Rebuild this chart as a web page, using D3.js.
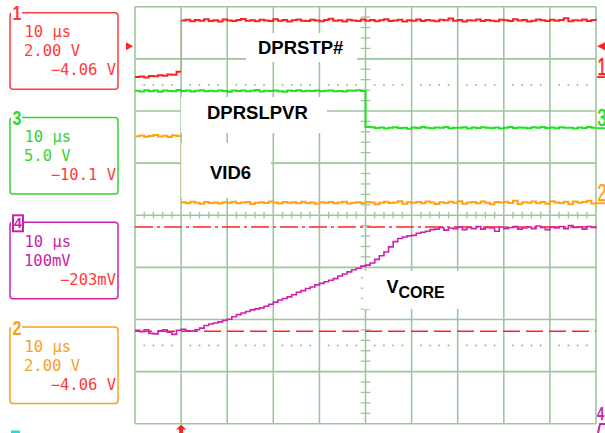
<!DOCTYPE html>
<html>
<head>
<meta charset="utf-8">
<script src="https://cdn.jsdelivr.net/npm/d3@7"></script>
<style>
body { margin: 0; background: #fff; }
svg { display: block; }
</style>
</head>
<body>
<div id="scope"></div>
<script>
// sample times (us), 10 us/div, trigger one division from the left
var timeUs = [-10,-9,-8,-7,-6,-5,-4,-3,-2,-1,0,1,2,3,4,5,6,7,8,9,10,11,12,13,14,15,16,17,18,19,20,21,22,23,24,25,26,27,28,29,30,31,32,33,34,35,36,37,38,39,40,41,42,43,44,45,46,47,48,49,50,51,52,53,54,55,56,57,58,59,60,61,62,63,64,65,66,67,68,69,70,71,72,73,74,75,76,77,78,79,80,81,82,83,84,85,86,87,88,89,90];

// ch1 DPRSTP# (V)
var ch1Volts = [0.00,0.02,-0.02,0.04,0.03,0.07,0.05,0.10,0.09,0.20,
	2.17,2.20,2.14,2.19,2.16,2.22,2.15,2.18,2.13,2.21,
	2.17,2.15,2.19,2.23,2.16,2.18,2.14,2.20,2.17,2.15,
	2.22,2.16,2.19,2.13,2.18,2.21,2.16,2.15,2.20,2.17,
	2.14,2.19,2.24,2.16,2.18,2.13,2.20,2.17,2.15,2.21,
	2.16,2.19,2.14,2.18,2.22,2.15,2.17,2.20,2.13,2.18,
	2.16,2.21,2.15,2.19,2.17,2.14,2.20,2.18,2.25,2.16,
	2.19,2.13,2.18,2.17,2.21,2.15,2.19,2.16,2.14,2.20,
	2.18,2.15,2.22,2.17,2.19,2.13,2.16,2.21,2.18,2.15,
	2.20,2.16,2.19,2.26,2.14,2.18,2.17,2.21,2.15,2.19,
	2.17];

// ch3 DPRSLPVR (V)
var ch3Volts = [3.58,3.52,3.63,3.55,3.60,3.49,3.62,3.57,3.54,3.66,
	3.56,3.60,3.51,3.58,3.64,3.55,3.59,3.53,3.61,3.57,
	3.48,3.60,3.56,3.62,3.54,3.58,3.65,3.52,3.59,3.56,
	3.61,3.55,3.50,3.60,3.57,3.63,3.54,3.58,3.56,3.60,
	3.53,3.59,3.62,3.55,3.57,3.51,3.60,3.58,3.64,3.56,
	0.12,0.08,0.02,0.06,-0.03,0.05,0.09,0.01,0.04,-0.05,
	0.07,0.02,0.10,0.03,-0.02,0.06,0.04,0.11,0.00,0.05,
	0.03,0.08,-0.04,0.06,0.02,0.09,0.04,0.01,0.07,-0.03,
	0.05,0.10,0.02,0.06,0.03,-0.01,0.08,0.04,0.12,0.02,
	0.06,0.00,0.09,0.03,0.05,-0.04,0.07,0.02,0.10,0.04,
	0.06];

// ch2 VID6 (V)
var ch2Volts = [2.57,2.60,2.55,2.58,2.62,2.56,2.59,2.54,2.61,2.58,
	0.04,0.00,0.06,0.02,-0.02,0.05,0.01,0.03,-0.01,0.04,
	0.02,0.06,0.00,0.03,0.05,-0.03,0.02,0.04,0.01,0.07,
	0.03,-0.01,0.05,0.02,0.04,0.00,0.06,0.01,0.03,-0.02,
	0.04,0.02,0.05,0.00,0.03,0.06,-0.01,0.02,0.04,0.01,
	0.05,0.03,-0.04,0.02,0.06,0.01,0.03,0.08,-0.02,0.04,
	0.02,0.05,0.00,0.07,0.03,-0.03,0.04,0.01,0.06,0.02,
	0.08,-0.02,0.03,0.05,0.00,0.07,0.02,-0.04,0.05,0.03,
	0.06,0.01,0.09,-0.03,0.04,0.02,0.07,0.00,0.05,-0.02,
	0.08,0.03,0.01,0.06,-0.04,0.07,0.02,0.05,0.09,-0.01,
	0.04];

// ch4 VCORE, change from start level (mV)
var ch4MilliVolts = [2,-1,3,-4,-5,1,3,-2,-6,2,
	4,1,0,3,6,11,14,16,18,21,
	23,28,32,35,38,41,43,45,48,52,
	56,60,63,66,70,75,78,82,85,89,
	92,95,98,101,106,110,114,118,121,125,
	127,131,138,145,152,162,172,178,181,183,
	184,188,190,192,195,
	196,199,194,198,197,200,195,199,197,201,
	196,199,198,192,200,197,199,201,196,198,
	200,197,202,199,195,200,198,201,197,203,
	199,200,196,201,199,202];

var vcoreCursorsMv = [200, 0];
var trigTimeUs = 0;
var trigLevelVolts = 1.18;

// left readouts
var readoutChannel = ["1", "3", "4", "2"];
var readoutTimebase = ["10 μs", "10 μs", "10 μs", "10 μs"];
var readoutScale = ["2.00 V", "5.0 V", "100mV", "2.00 V"];
var readoutOffset = ["−4.06 V", "−10.1 V", "−203mV", "−4.06 V"];

var RED = "#ff2222", GREEN = "#22e022", MAGENTA = "#d020b0", ORANGE = "#ffa410";
var TXT = {"1": "#ff3b3b", "3": "#33d633", "4": "#cc22aa", "2": "#f5a225"};

var channels = [
	{id: "1", values: ch1Volts, perDiv: 2, zeroDiv: 2.65, color: RED, width: 2, fadeEdge: true},
	{id: "3", values: ch3Volts, perDiv: 5, zeroDiv: 1.67, color: GREEN, width: 2, fadeEdge: false},
	{id: "2", values: ch2Volts, perDiv: 2, zeroDiv: 0.23, color: ORANGE, width: 2, fadeEdge: true},
	{id: "4", values: ch4MilliVolts, perDiv: 100, zeroDiv: -2.227, color: MAGENTA, width: 1.6, fadeEdge: false}
];

var W = 605, H = 433;
var x = d3.scaleLinear().domain([-10, 90]).range([135, 596]);
var y = d3.scaleLinear().domain([-4, 4]).range([423.7, 6.7]);

var svg = d3.select("#scope").append("svg")
	.attr("width", W).attr("height", H)
	.attr("viewBox", `0 0 ${W} ${H}`);
svg.append("rect").attr("width", W).attr("height", H).attr("fill", "#fff");

// graticule
var gridColor = "#9dc69d";
var grid = svg.append("g").attr("stroke", gridColor).attr("stroke-width", 1.6);
grid.selectAll("line.v").data(d3.range(-10, 91, 10)).enter().append("line").attr("class", "v")
	.attr("x1", d => x(d)).attr("x2", d => x(d)).attr("y1", y(4)).attr("y2", y(-4));
grid.selectAll("line.h").data(d3.range(-4, 5, 1)).enter().append("line").attr("class", "h")
	.attr("x1", x(-10)).attr("x2", x(90)).attr("y1", d => y(d)).attr("y2", d => y(d));

var xMinor = d3.range(-10, 91, 2).filter(t => t % 10 !== 0);
var yMinor = d3.range(-20, 21).filter(k => k % 5 !== 0).map(k => k / 5);

var ticks = svg.append("g").attr("stroke", gridColor).attr("stroke-width", 1.3);
ticks.selectAll("line.tx").data(xMinor).enter().append("line").attr("class", "tx")
	.attr("x1", d => x(d)).attr("x2", d => x(d)).attr("y1", y(0) - 3.4).attr("y2", y(0) + 3.4);
ticks.selectAll("line.ty").data(yMinor).enter().append("line").attr("class", "ty")
	.attr("x1", x(40) - 4.8).attr("x2", x(40) + 4.8).attr("y1", d => y(d)).attr("y2", d => y(d));

[2.5, -2.5].forEach(function (row) {
	svg.append("g").selectAll("circle").data(xMinor).enter().append("circle")
		.attr("cx", d => x(d)).attr("cy", y(row)).attr("r", 0.9).attr("fill", "#7cbd7c");
});

// white label boxes cover the graticule
var labelBoxes = [[246, 33, 111, 29], [181, 97, 146, 36], [181, 143, 90, 55], [363, 271, 107, 38]];
svg.append("g").selectAll("rect").data(labelBoxes).enter().append("rect")
	.attr("x", d => d[0]).attr("y", d => d[1]).attr("width", d => d[2]).attr("height", d => d[3])
	.attr("fill", "#fff");

// VCORE cursors
var ch4 = channels[3];
var cursorDash = ["18,4,3,4", "17,6"];
svg.append("g").selectAll("line").data(vcoreCursorsMv).enter().append("line")
	.attr("x1", x(-10)).attr("x2", x(90))
	.attr("y1", d => y(d / ch4.perDiv + ch4.zeroDiv)).attr("y2", d => y(d / ch4.perDiv + ch4.zeroDiv))
	.attr("stroke", RED).attr("stroke-width", 1.6)
	.attr("stroke-dasharray", (d, i) => cursorDash[i]);

// traces, drawn as sample-and-hold steps
function drawTrace(ch) {
	var main = d3.path(), edges = d3.path();
	var pts = timeUs.map((t, i) => [x(t), y(ch.values[i] / ch.perDiv + ch.zeroDiv)]);
	main.moveTo(pts[0][0], pts[0][1]);
	for (var i = 1; i < pts.length; i++) {
		main.lineTo(pts[i][0], pts[i - 1][1]);
		if (ch.fadeEdge && Math.abs(pts[i][1] - pts[i - 1][1]) > 20) {
			edges.moveTo(pts[i][0], pts[i - 1][1]);
			edges.lineTo(pts[i][0], pts[i][1]);
			main.moveTo(pts[i][0], pts[i][1]);
		} else {
			main.lineTo(pts[i][0], pts[i][1]);
		}
	}
	svg.append("path").attr("d", edges.toString()).attr("fill", "none")
		.attr("stroke", ch.color).attr("stroke-opacity", 0.3).attr("stroke-width", 1.2);
	svg.append("path").attr("d", main.toString()).attr("fill", "none")
		.attr("stroke", ch.color).attr("stroke-width", ch.width).attr("stroke-linejoin", "miter");
}
channels.forEach(drawTrace);

// trace names
var nameFont = "'Liberation Sans', Arial, sans-serif";
var names = svg.append("g").attr("font-family", nameFont).attr("font-weight", "bold")
	.attr("font-size", 18.5).attr("fill", "#000");
names.append("text").attr("x", 258).attr("y", 54).text("DPRSTP#");
names.append("text").attr("x", 207).attr("y", 119).text("DPRSLPVR");
names.append("text").attr("x", 210).attr("y", 179).text("VID6");
var vc = names.append("text").attr("x", 386.5).attr("y", 293).attr("font-size", 18);
vc.append("tspan").text("V");
vc.append("tspan").attr("font-size", 16).attr("dy", 5).text("CORE");

// ground markers on the right edge
var markerFont = "'Liberation Sans', Arial, sans-serif";
channels.slice(0, 3).forEach(function (ch) {
	var gy = y(ch.zeroDiv);
	svg.append("text").attr("transform", `translate(597.5,${gy - 2}) scale(0.7,1)`)
		.attr("font-family", markerFont).attr("font-size", 23).attr("fill", ch.color)
		.attr("stroke", ch.color).attr("stroke-width", 0.6).text(ch.id);
	svg.append("line").attr("x1", 597).attr("x2", 605).attr("y1", gy).attr("y2", gy)
		.attr("stroke", ch.color).attr("stroke-width", 1.8);
});
// ch4 reference is below the screen
svg.append("text").attr("transform", "translate(597,420) scale(0.72,1)")
	.attr("font-family", markerFont).attr("font-weight", "bold").attr("font-size", 18)
	.attr("fill", MAGENTA).text("4");
svg.append("path").attr("d", "M598,433L600,424L605,424").attr("fill", "none")
	.attr("stroke", MAGENTA).attr("stroke-width", 2);

// trigger level and position markers
var ch1 = channels[0];
var ty = y(trigLevelVolts / ch1.perDiv + ch1.zeroDiv);
svg.append("path").attr("d", `M${x(-10) - 2},${ty}L${x(-10) - 9},${ty - 4}L${x(-10) - 9},${ty + 4}Z`).attr("fill", RED);
svg.append("path").attr("d", `M${x(90) + 1},${ty}L${x(90) + 9},${ty - 4}L${x(90) + 9},${ty + 4}Z`).attr("fill", RED);
var tx = x(trigTimeUs);
svg.append("path")
	.attr("d", `M${tx},424.5L${tx + 5},429.5L${tx + 2},429.5L${tx + 2},433L${tx - 2},433L${tx - 2},429.5L${tx - 5},429.5Z`)
	.attr("fill", RED);

// channel readouts
var monoFont = "'DejaVu Sans Mono', monospace";
readoutChannel.forEach(function (id, i) {
	var top = 12.7 + 104.8 * i, c = TXT[id];
	var g = svg.append("g");
	g.append("rect").attr("x", 10).attr("y", top).attr("width", 108).attr("height", 76.5)
		.attr("rx", 3).attr("fill", "none").attr("stroke", c).attr("stroke-width", 1.5);
	g.append("rect").attr("x", 11).attr("y", top - 9).attr("width", 11).attr("height", 17).attr("fill", "#fff");
	if (id === "4") {
		g.append("rect").attr("x", 13).attr("y", top - 7).attr("width", 10).attr("height", 16)
			.attr("fill", "#fff").attr("stroke", c).attr("stroke-width", 2);
		g.append("text").attr("x", 18).attr("y", top + 6).attr("text-anchor", "middle")
			.attr("font-family", nameFont).attr("font-weight", "bold").attr("font-size", 14)
			.attr("fill", c).text(id);
	} else {
		g.append("text").attr("transform", `translate(12.5,${top + 7.5}) scale(0.8,1)`)
			.attr("font-family", nameFont).attr("font-weight", "bold").attr("font-size", 20)
			.attr("fill", c).text(id);
	}
	g.append("text").attr("x", 24.5).attr("y", top + 24.5).attr("font-family", monoFont)
		.attr("font-size", 15.5).attr("fill", c).text(readoutTimebase[i]);
	g.append("text").attr("x", 24).attr("y", top + 43.5).attr("font-family", monoFont)
		.attr("font-size", 15.5).attr("fill", c).text(readoutScale[i]);
	g.append("text").attr("x", 116).attr("y", top + 62.5).attr("text-anchor", "end")
		.attr("font-family", monoFont).attr("font-size", 15.5).attr("fill", TXT["1"]).text(readoutOffset[i]);
});
// top of the next (cyan) readout, cut off by the screen edge
svg.append("rect").attr("x", 11).attr("y", 430.5).attr("width", 9).attr("height", 3).attr("fill", "#22dddd");
</script>
</body>
</html>
